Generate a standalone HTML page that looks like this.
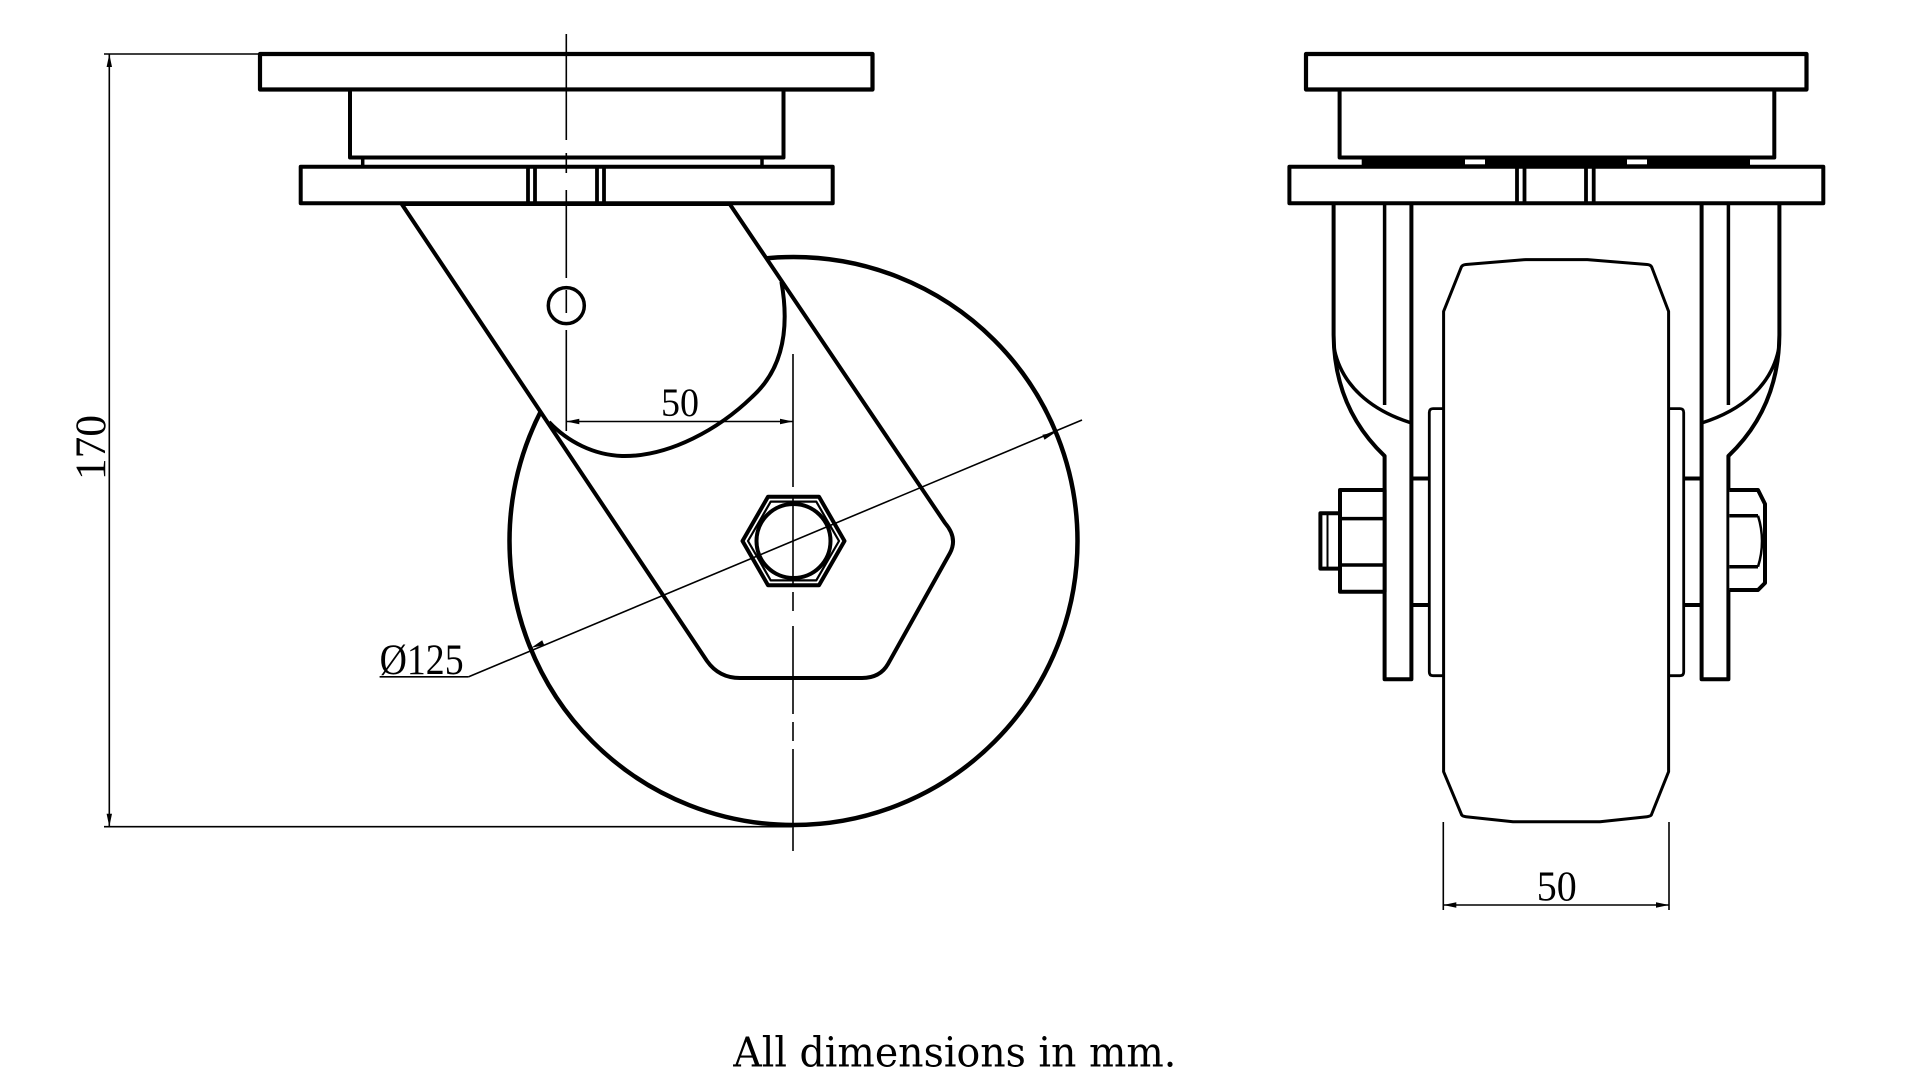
<!DOCTYPE html>
<html>
<head>
<meta charset="utf-8">
<style>
  html,body{margin:0;padding:0;background:#fff;}
  svg{display:block;}
</style>
</head>
<body>
<svg width="1920" height="1075" viewBox="0 0 1920 1075" xmlns="http://www.w3.org/2000/svg">
<rect x="0" y="0" width="1920" height="1075" fill="#fff"/>

<!-- ================= LEFT VIEW ================= -->
<g fill="none" stroke="#000" stroke-linejoin="round">
  <!-- wheel circle (behind fork) -->
  <circle cx="793.5" cy="541" r="284" stroke-width="4.5"/>

  <!-- fork -->
  <path d="M401.7,204 L707,661 Q719,678 740,678 L862,678 Q880,678 888,664 L950,553 Q958,538 945,523 L729.7,204 Z" fill="#fff" stroke-width="4"/>

  <!-- swivel housing arc inside fork -->
  <path d="M781.4,281.8 C790,330 782,370 752,397 C720,428 670,457 622,456 C594,455 568,442 549,422" stroke-width="4"/>

  <!-- top plate -->
  <rect x="260" y="54" width="612.5" height="35.5" fill="#fff" stroke-width="4.2"/>
  <!-- housing -->
  <rect x="350" y="89.5" width="433.5" height="68" fill="#fff" stroke-width="4"/>
  <!-- ring legs -->
  <line x1="362.7" y1="157.5" x2="362.7" y2="166.7" stroke-width="3.5"/>
  <line x1="762" y1="157.5" x2="762" y2="166.7" stroke-width="3.5"/>
  <!-- lower plate -->
  <rect x="300.7" y="166.7" width="532" height="36.6" fill="#fff" stroke-width="4"/>
  <line x1="528" y1="166.7" x2="528" y2="203.3" stroke-width="3.8"/>
  <line x1="535" y1="166.7" x2="535" y2="203.3" stroke-width="3.8"/>
  <line x1="597" y1="166.7" x2="597" y2="203.3" stroke-width="3.8"/>
  <line x1="604" y1="166.7" x2="604" y2="203.3" stroke-width="3.8"/>

  <!-- king pin hole -->
  <circle cx="566.3" cy="305.6" r="18" stroke-width="3.5"/>

  <!-- hex nut -->
  <polygon points="844.5,541 819,585.2 768,585.2 742.5,541 768,496.8 819,496.8" stroke-width="4"/>
  <polygon points="839,541 816.25,580.4 770.75,580.4 748,541 770.75,501.6 816.25,501.6" stroke-width="2.2"/>
  <circle cx="793.5" cy="541" r="37" stroke-width="4"/>
</g>

<!-- center lines left view -->
<g stroke="#000" stroke-width="1.6" fill="none">
  <line x1="566.3" y1="34" x2="566.3" y2="140"/>
  <line x1="566.3" y1="153" x2="566.3" y2="173"/>
  <line x1="566.3" y1="190" x2="566.3" y2="278"/>
  <line x1="566.3" y1="290" x2="566.3" y2="313"/>
  <line x1="566.3" y1="330" x2="566.3" y2="431"/>

  <line x1="793" y1="354" x2="793" y2="487"/>
  <line x1="793" y1="496" x2="793" y2="584"/>
  <line x1="793" y1="592" x2="793" y2="611"/>
  <line x1="793" y1="626" x2="793" y2="714"/>
  <line x1="793" y1="722" x2="793" y2="741"/>
  <line x1="793" y1="749" x2="793" y2="851"/>

  <!-- 50 dimension -->
  <line x1="566.3" y1="421.5" x2="793" y2="421.5"/>
  <!-- diameter dimension -->
  <line x1="379.6" y1="676.8" x2="468.7" y2="676.8"/>
  <line x1="468.7" y1="676.8" x2="1082" y2="420"/>
  <!-- 170 dimension -->
  <line x1="109.3" y1="54" x2="109.3" y2="826.7"/>
  <line x1="104" y1="54" x2="260" y2="54"/>
  <line x1="104" y1="826.7" x2="792" y2="826.7"/>
</g>

<!-- arrows left view -->
<g fill="#000" stroke="none">
  <polygon points="566.3,421.5 579.3,418.8 579.3,424.2"/>
  <polygon points="793,421.5 780,418.8 780,424.2"/>
  <polygon points="109.3,54 106.6,67 112,67"/>
  <polygon points="109.3,826.7 106.6,813.7 112,813.7"/>
  <polygon points="531.3,647.7 544.3,645.3 542.2,640.3"/>
  <polygon points="1055.4,432.4 1042.4,434.8 1044.5,439.8"/>
</g>

<!-- labels left view -->
<g font-family="'Liberation Serif', 'DejaVu Serif', serif" fill="#000">
  <text x="680" y="416" font-size="40" text-anchor="middle" textLength="38" lengthAdjust="spacingAndGlyphs">50</text>
  <text x="379.6" y="674" font-size="43" textLength="84" lengthAdjust="spacingAndGlyphs">Ø125</text>
  <text transform="translate(105,447.5) rotate(-90)" font-size="43" text-anchor="middle" textLength="65" lengthAdjust="spacingAndGlyphs">170</text>
</g>

<!-- ================= RIGHT VIEW ================= -->
<g fill="none" stroke="#000" stroke-linejoin="round">
  <!-- top plate -->
  <rect x="1306" y="54" width="500.5" height="35.5" fill="#fff" stroke-width="4.2"/>
  <!-- housing -->
  <rect x="1339.6" y="89.5" width="434.7" height="68" fill="#fff" stroke-width="4"/>
  <!-- bearing strip -->
  <rect x="1361.7" y="157.5" width="388.3" height="9" fill="#000" stroke="none"/>
  <rect x="1465" y="159.5" width="20" height="4.8" fill="#fff" stroke="none"/>
  <rect x="1627" y="159.5" width="20" height="4.8" fill="#fff" stroke="none"/>
  <!-- lower plate -->
  <rect x="1289.4" y="166.7" width="533.9" height="36.6" fill="#fff" stroke-width="4"/>
  <line x1="1517" y1="166.7" x2="1517" y2="203.3" stroke-width="3.8"/>
  <line x1="1524.5" y1="166.7" x2="1524.5" y2="203.3" stroke-width="3.8"/>
  <line x1="1586" y1="166.7" x2="1586" y2="203.3" stroke-width="3.8"/>
  <line x1="1593.7" y1="166.7" x2="1593.7" y2="203.3" stroke-width="3.8"/>

  <!-- tire -->
  <path d="M1443.6,771.7 L1443.6,311.4 L1461.4,266.8 Q1462.5,264.8 1466,264.5 L1525.7,259.6 L1587.3,259.6 L1647,264.5 Q1650.5,264.8 1651.6,266.8 L1668.6,311.4 L1668.6,771.7 L1651.3,815 Q1650,816.4 1647,816.7 L1600,821.7 L1513,821.7 L1466,816.7 Q1463,816.4 1461.7,815 Z" stroke-width="3"/>

  <!-- left leg + hub + spacer (mirrored for right) -->
  <g id="legL">
    <path d="M1333.6,203.3 L1333.6,335 C1334,385 1352,425 1384.6,456 L1384.6,679.3 L1411.4,679.3 L1411.4,203.3" stroke-width="4"/>
    <path d="M1334.5,350 C1342,385 1370,410 1411.4,423" stroke-width="3.5"/>
    <line x1="1384.6" y1="203.3" x2="1384.6" y2="405" stroke-width="3.5"/>
    <line x1="1411.4" y1="478.5" x2="1429.3" y2="478.5" stroke-width="4"/>
    <line x1="1411.4" y1="605" x2="1429.3" y2="605" stroke-width="4"/>
    <path d="M1443.6,408.6 L1433,408.6 Q1429.3,408.6 1429.3,412.5 L1429.3,672 Q1429.3,675.7 1433,675.7 L1443.6,675.7" stroke-width="2.8"/>
  </g>
  <g transform="translate(3113,0) scale(-1,1)">
    <path d="M1333.6,203.3 L1333.6,335 C1334,385 1352,425 1384.6,456 L1384.6,679.3 L1411.4,679.3 L1411.4,203.3" stroke-width="4"/>
    <path d="M1334.5,350 C1342,385 1370,410 1411.4,423" stroke-width="3.5"/>
    <line x1="1384.6" y1="203.3" x2="1384.6" y2="405" stroke-width="3.5"/>
    <line x1="1411.4" y1="478.5" x2="1429.3" y2="478.5" stroke-width="4"/>
    <line x1="1411.4" y1="605" x2="1429.3" y2="605" stroke-width="4"/>
    <path d="M1443.6,408.6 L1433,408.6 Q1429.3,408.6 1429.3,412.5 L1429.3,672 Q1429.3,675.7 1433,675.7 L1443.6,675.7" stroke-width="2.8"/>
  </g>

  <!-- bolt head left -->
  <rect x="1340" y="490" width="44.6" height="101.8" fill="#fff" stroke-width="4"/>
  <line x1="1340" y1="518.6" x2="1384.6" y2="518.6" stroke-width="3.5"/>
  <line x1="1340" y1="565" x2="1384.6" y2="565" stroke-width="3.5"/>
  <rect x="1320.4" y="513.2" width="19.6" height="55.4" fill="#fff" stroke-width="4"/>
  <line x1="1327.5" y1="515" x2="1327.5" y2="567" stroke-width="2"/>

  <!-- nut right -->
  <path d="M1729.3,490 L1758,490 L1765,504 L1765,583 L1758,590 L1729.3,590" fill="#fff" stroke-width="4"/>
  <line x1="1729.3" y1="515.7" x2="1758" y2="515.7" stroke-width="3.5"/>
  <line x1="1729.3" y1="566.8" x2="1758" y2="566.8" stroke-width="3.5"/>
  <path d="M1758,515.7 Q1766,541 1758,566.8" stroke-width="2.5"/>
</g>

<!-- right view dimension -->
<g stroke="#000" stroke-width="1.6" fill="none">
  <line x1="1443.3" y1="822" x2="1443.3" y2="910"/>
  <line x1="1669" y1="822" x2="1669" y2="910"/>
  <line x1="1443.3" y1="905" x2="1669" y2="905"/>
</g>
<g fill="#000">
  <polygon points="1443.3,905 1456.3,902.3 1456.3,907.7"/>
  <polygon points="1669,905 1656,902.3 1656,907.7"/>
  <text x="1556.7" y="900.5" font-family="'Liberation Serif', 'DejaVu Serif', serif" font-size="42" text-anchor="middle" textLength="40" lengthAdjust="spacingAndGlyphs">50</text>
</g>

<!-- footer -->
<text x="733.3" y="1066.7" font-family="'DejaVu Serif', 'Liberation Serif', serif" font-size="41" fill="#000" textLength="443" lengthAdjust="spacingAndGlyphs">All dimensions in mm.</text>
</svg>
</body>
</html>
